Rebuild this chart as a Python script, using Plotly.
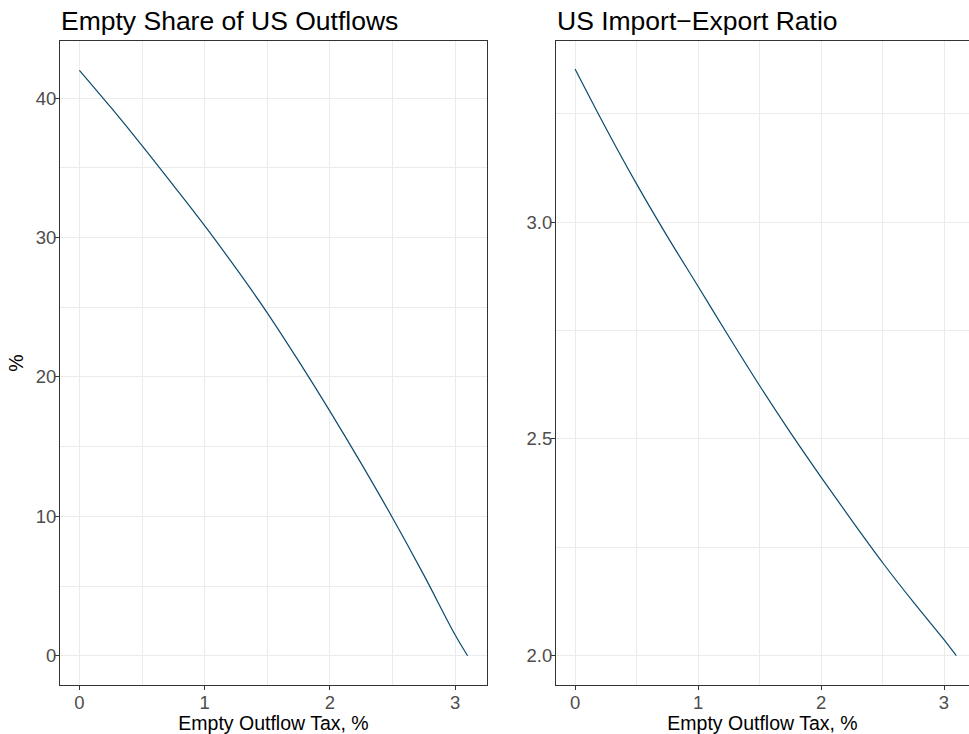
import plotly.graph_objects as go

# Data
tax = [0.0, 0.25, 0.5, 0.75, 1.0, 1.25, 1.5, 1.75, 2.0, 2.25, 2.5, 2.75, 3.0, 3.1]
empty_share = [42.0, 39.35, 36.6, 33.75, 30.85, 27.8, 24.6, 21.15, 17.55, 13.8, 9.9, 5.8, 1.5, 0.0]
imp_exp_ratio = [3.353, 3.217, 3.088, 2.967, 2.852, 2.736, 2.623, 2.515, 2.412, 2.312,
                 2.215, 2.124, 2.037, 2.0]

left_title = "Empty Share of US Outflows"
right_title = "US Import\u2212Export Ratio"
x_title = "Empty Outflow Tax, %"
left_ytitle = "%"

FONT = "Liberation Sans, Arial, sans-serif"
LINE_COLOR = "#0B4A6D"
GRID = "#EBEBEB"
FRAME = "#333333"
TICKTXT = "#4D4D4D"

fig = go.Figure()
fig.add_trace(go.Scatter(x=tax, y=empty_share, mode="lines",
                         line=dict(color=LINE_COLOR, width=1.2, shape="spline", smoothing=1.0),
                         xaxis="x", yaxis="y", showlegend=False, hoverinfo="skip"))
fig.add_trace(go.Scatter(x=tax, y=imp_exp_ratio, mode="lines",
                         line=dict(color=LINE_COLOR, width=1.2, shape="spline", smoothing=1.0),
                         xaxis="x2", yaxis="y2", showlegend=False, hoverinfo="skip"))

W, H = 969, 734
ml, mr, mt = 60, 0, 41
mb = H - 685
pw = W - ml - mr
left_dom = [0.0, (487 - 60) / pw]
right_dom = [(556 - 60) / pw, 1.0]

common_axis = dict(
    showgrid=True, gridcolor=GRID, gridwidth=1,
    zeroline=False,
    showline=True, linecolor=FRAME, linewidth=1,
    ticks="outside", ticklen=4, tickcolor=FRAME, tickwidth=1,
    tickfont=dict(family=FONT, size=18.5, color=TICKTXT),
)
xstyle = dict(ticklabelstandoff=-3)
ystyle = dict(ticklabelstandoff=-5)
title_font = dict(family=FONT, size=19.5, color="black")

fig.update_layout(
    width=W, height=H,
    margin=dict(l=ml, r=mr, t=mt, b=mb, autoexpand=False),
    paper_bgcolor="white", plot_bgcolor="white",
    font=dict(family=FONT),
    xaxis=dict(domain=left_dom, range=[-0.155, 3.255], tickvals=[0, 1, 2, 3], mirror=True,
               minor=dict(dtick=0.5, tick0=0, showgrid=True, gridcolor=GRID, gridwidth=0.6, ticks=""),
               title=dict(text=x_title, font=title_font, standoff=0),
               anchor="y", **common_axis, **xstyle),
    yaxis=dict(domain=[0, 1], range=[-2.1, 44.1], tickvals=[0, 10, 20, 30, 40], mirror=True,
               minor=dict(dtick=5, tick0=0, showgrid=True, gridcolor=GRID, gridwidth=0.6, ticks=""),
               title=dict(text=left_ytitle, font=title_font, standoff=6),
               anchor="x", **common_axis, **ystyle),
    xaxis2=dict(domain=right_dom, range=[-0.155, (969 - 575) / 123.0], tickvals=[0, 1, 2, 3], mirror=True,
                minor=dict(dtick=0.5, tick0=0, showgrid=True, gridcolor=GRID, gridwidth=0.6, ticks=""),
                title=dict(text=x_title, font=title_font, standoff=0),
                anchor="y2", **common_axis, **xstyle),
    yaxis2=dict(domain=[0, 1], range=[1.9325, 3.4175], tickvals=[2.0, 2.5, 3.0], tickformat=".1f",
                mirror=False,
                minor=dict(dtick=0.25, tick0=2.0, showgrid=True, gridcolor=GRID, gridwidth=0.6, ticks=""),
                anchor="x2", **common_axis, **ystyle),
    annotations=[
        dict(text=left_title, xref="x domain", x=0, xanchor="left",
             yref="paper", y=1, yanchor="bottom", yshift=4, showarrow=False, borderpad=0,
             font=dict(family=FONT, size=26.5, color="black")),
        dict(text=right_title, xref="x2 domain", x=0, xanchor="left",
             yref="paper", y=1, yanchor="bottom", yshift=4, showarrow=False, borderpad=0,
             font=dict(family=FONT, size=26.5, color="black")),
    ],
)

fig.write_html("out.html", config={"displayModeBar": False},
               post_script="document.body.style.margin='0px';document.body.style.overflow='hidden';")
